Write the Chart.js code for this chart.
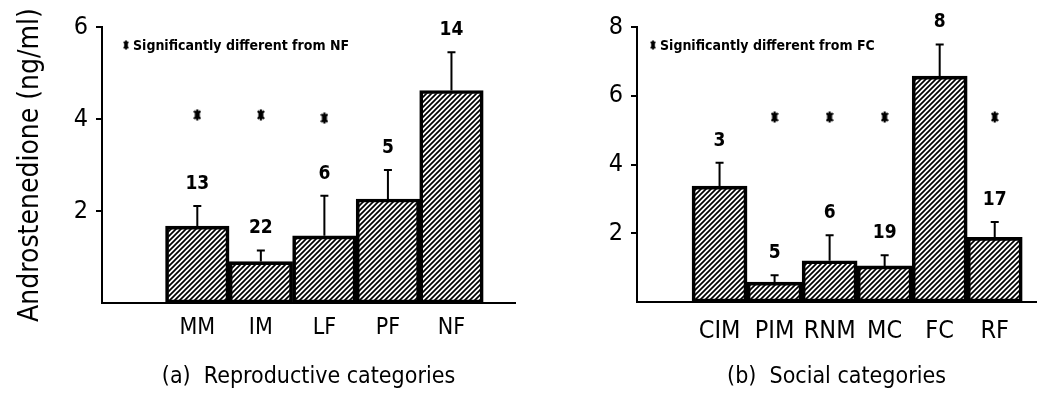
<!DOCTYPE html>
<html>
<head>
<meta charset="utf-8">
<script src="https://cdn.jsdelivr.net/npm/chart.js@4"></script>
<style>
  body { margin: 0; background: #fff; }
  .wrap { position: absolute; top: 0; height: 394px; }
</style>
</head>
<body>
<div class="wrap" style="left:0; width:520px;"><canvas id="reproChart"></canvas></div>
<div class="wrap" style="left:520px; width:521px;"><canvas id="socialChart"></canvas></div>
<script>
// (a) Reproductive categories
const reproLabels = ['MM', 'IM', 'LF', 'PF', 'NF'];
const reproMeans = [1.67, 0.90, 1.46, 2.26, 4.62];
const reproErrors = [0.44, 0.24, 0.87, 0.63, 0.83];
const reproN = [13, 22, 6, 5, 14];
const reproStars = [{x: 1, y: 4.09}, {x: 2, y: 4.09}, {x: 3, y: 4.02}];

// (b) Social categories
const socialLabels = ['CIM', 'PIM', 'RNM', 'MC', 'FC', 'RF'];
const socialMeans = [3.37, 0.58, 1.20, 1.05, 6.57, 1.88];
const socialErrors = [0.68, 0.20, 0.74, 0.31, 0.92, 0.45];
const socialN = [3, 5, 6, 19, 8, 17];
const socialStars = [{x: 2, y: 5.38}, {x: 3, y: 5.38}, {x: 4, y: 5.38}, {x: 6, y: 5.38}];

const FONT = "'DejaVu Sans Condensed', 'DejaVu Sans', sans-serif";

// diagonal line fill for the bars
function hatch() {
    var c = document.createElement('canvas');
    c.width = 5; c.height = 5;
    var g = c.getContext('2d');
    g.strokeStyle = '#000';
    g.lineWidth = 1.7;
    g.beginPath();
    g.moveTo(0, 5); g.lineTo(5, 0);
    g.moveTo(-1, 1); g.lineTo(1, -1);
    g.moveTo(4, 6); g.lineTo(6, 4);
    g.stroke();
    return g.createPattern(c, 'repeat');
}

// narrow bold asterisk used as the significance marker
function asterisk() {
    var c = document.createElement('canvas');
    c.width = 8; c.height = 12;
    var g = c.getContext('2d');
    g.strokeStyle = '#000';
    g.lineWidth = 2.2;
    g.beginPath();
    g.moveTo(4, 0.5); g.lineTo(4, 11.5);
    g.moveTo(1, 2); g.lineTo(7, 10);
    g.moveTo(7, 2); g.lineTo(1, 10);
    g.moveTo(1.5, 6); g.lineTo(6.5, 6);
    g.stroke();
    return c;
}
const star = asterisk();

// error bars (upper only), sample sizes and the key text
const extras = {
    id: 'extras',
    afterDatasetsDraw(chart, args, opts) {
        const ctx = chart.ctx;
        const y = chart.scales.y;
        const meta = chart.getDatasetMeta(0);
        ctx.save();
        ctx.strokeStyle = '#000';
        ctx.fillStyle = '#000';
        ctx.lineWidth = 2;
        meta.data.forEach((bar, i) => {
            const top = y.getPixelForValue(opts.means[i] + opts.errors[i]);
            ctx.beginPath();
            ctx.moveTo(bar.x, bar.y);
            ctx.lineTo(bar.x, top);
            ctx.moveTo(bar.x - 4, top);
            ctx.lineTo(bar.x + 4, top);
            ctx.stroke();
            ctx.font = 'bold 19px ' + FONT;
            ctx.textAlign = 'center';
            ctx.textBaseline = 'middle';
            ctx.fillText(String(opts.n[i]), bar.x, top - 22);
        });
        const a = chart.chartArea;
        const kx = a.left + opts.keyDx;
        const ky = a.top + 18;
        ctx.drawImage(star, kx - 3, ky - 5, 6, 10);
        ctx.font = 'bold 14px ' + FONT;
        ctx.textAlign = 'left';
        ctx.fillText(opts.key, kx + 7, ky + 1);
        ctx.restore();
    }
};

function makeChart(id, cfg) {
    var el = document.getElementById(id);
    return new Chart(el.getContext('2d'), {
        type: 'bar',
        data: {
            datasets: [{
                data: cfg.means.map((v, i) => ({x: i + 1, y: v})),
                backgroundColor: hatch(),
                borderColor: '#000',
                borderWidth: 3,
                borderSkipped: false,
                barPercentage: 1,
                categoryPercentage: 1
            }, {
                type: 'line',
                data: cfg.stars,
                showLine: false,
                pointStyle: star,
                borderColor: '#000'
            }]
        },
        plugins: [extras],
        options: {
            responsive: true,
            maintainAspectRatio: false,
            animation: false,
            layout: { padding: { top: 27, right: cfg.padRight, left: 0, bottom: 0 } },
            plugins: {
                legend: { display: false },
                tooltip: { enabled: false },
                extras: { means: cfg.means, errors: cfg.errors, n: cfg.n, key: cfg.key, keyDx: cfg.keyDx }
            },
            scales: {
                x: {
                    type: 'linear',
                    offset: false,
                    min: -0.5,
                    max: cfg.xMax,
                    afterFit: s => { s.height = cfg.xHeight; },
                    afterBuildTicks: s => { s.ticks = cfg.labels.map((l, i) => ({value: i + 1})); },
                    grid: { display: false, drawTicks: false },
                    border: { display: true, color: '#000', width: 2 },
                    ticks: {
                        autoSkip: false,
                        maxRotation: 0,
                        padding: cfg.labelPad,
                        color: '#000',
                        font: { family: FONT, size: cfg.labelSize },
                        callback: v => cfg.labels[v - 1]
                    },
                    title: {
                        display: true,
                        text: cfg.title,
                        color: '#000',
                        font: { family: FONT, size: 23 },
                        padding: { top: 0, bottom: 3 }
                    }
                },
                y: {
                    min: 0,
                    max: cfg.yMax,
                    afterFit: s => { s.width = cfg.yWidth; },
                    afterBuildTicks: s => { s.ticks = s.ticks.filter(t => t.value > 0); },
                    grid: { drawOnChartArea: false, drawTicks: true, tickLength: 6, color: '#000', lineWidth: 2 },
                    border: { display: true, color: '#000', width: 2 },
                    ticks: {
                        stepSize: 2,
                        padding: 8,
                        color: '#000',
                        font: { family: FONT, size: 25 }
                    },
                    title: {
                        display: cfg.yTitle !== '',
                        text: cfg.yTitle,
                        color: '#000',
                        font: { family: FONT, size: 28 },
                        padding: { top: 14, bottom: 0 }
                    }
                }
            }
        }
    });
}

makeChart('reproChart', {
    labels: reproLabels, means: reproMeans, errors: reproErrors, n: reproN, stars: reproStars,
    key: 'Significantly different from NF', keyDx: 24,
    title: '(a)  Reproductive categories', yTitle: 'Androstenedione (ng/ml)',
    xMax: 6.0, yMax: 6, padRight: 3, xHeight: 91, yWidth: 102, labelSize: 23, labelPad: 11
});

makeChart('socialChart', {
    labels: socialLabels, means: socialMeans, errors: socialErrors, n: socialN, stars: socialStars,
    key: 'Significantly different from FC', keyDx: 16,
    title: '(b)  Social categories', yTitle: '',
    xMax: 6.75, yMax: 8, padRight: 1, xHeight: 92, yWidth: 117, labelSize: 25, labelPad: 14
});
</script>
</body>
</html>
